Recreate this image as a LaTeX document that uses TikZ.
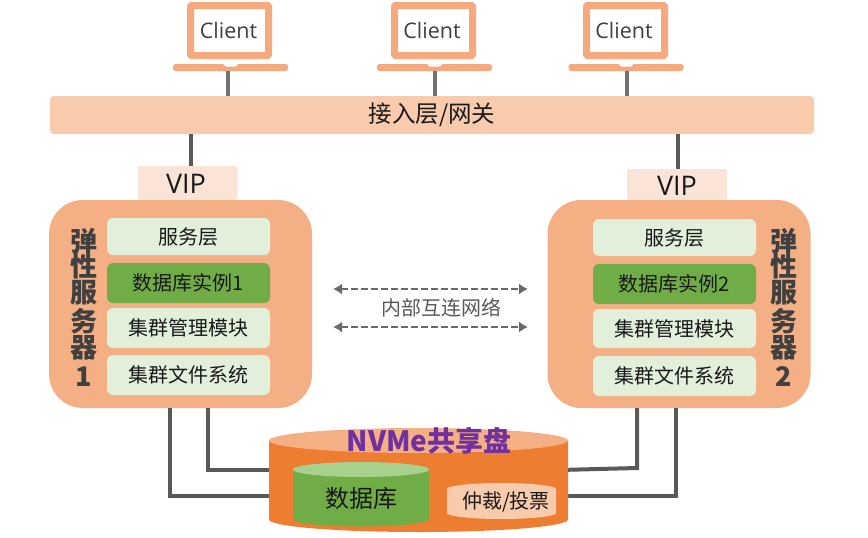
\documentclass[tikz,border=0pt]{standalone}
\usepackage{fontspec}
\setmainfont{Noto Sans CJK SC}
\newfontfamily\latinf{Open Sans}
\usetikzlibrary{arrows.meta}
\definecolor{lapc}{HTML}{F4A97E}
\definecolor{gatec}{HTML}{F8CBAD}
\definecolor{vipc}{HTML}{F9E4D7}
\definecolor{srvc}{HTML}{F4AF84}
\definecolor{lgreen}{HTML}{E2EFDA}
\definecolor{dgreen}{HTML}{70AD47}
\definecolor{mgreen}{HTML}{A9D18E}
\definecolor{orangec}{HTML}{ED7D31}
\definecolor{linec}{HTML}{595959}
\definecolor{labc}{HTML}{404040}
\definecolor{purp}{HTML}{7030A0}
\tikzset{
  px/.style={inner sep=0pt,outer sep=0pt},
  screen/.style={px,draw=lapc,line width=7pt,rounded corners=1pt,fill=white,minimum width=78pt,minimum height=50pt},
  lapbase/.style={px,fill=lapc,minimum width=115pt,minimum height=7pt,rounded corners=2.5pt},
  clienttext/.style={px,font=\latinf\fontsize{21.5}{21.5}\selectfont,text=labc},
  gate/.style={px,fill=gatec,rounded corners=4pt,minimum width=764pt,minimum height=38pt,font=\fontsize{23.5}{23.5}\selectfont,text=black!90},
  vipbox/.style={px,fill=vipc,rounded corners=2pt,minimum width=100pt},
  viptext/.style={px,font=\latinf\fontsize{27}{27}\selectfont,text=black!90},
  server/.style={px,fill=srvc,rounded corners=34pt,minimum width=263pt,minimum height=208pt},
  layerbox/.style={px,fill=lgreen,rounded corners=6pt,minimum width=163pt,font=\fontsize{20}{20}\selectfont,text=black!90},
  dbbox/.style={layerbox,fill=dgreen},
  sidelab/.style={px,font=\bfseries\fontsize{27}{27}\selectfont,text=labc},
  conn/.style={draw=linec!85,line width=4pt},
  wire/.style={draw=linec,line width=4pt},
  dbl/.style={draw=linec!90,line width=2.5pt,dash pattern=on 7pt off 3pt,{Latex[length=9pt,width=11pt]}-{Latex[length=9pt,width=11pt]}},
}
\begin{document}
\begin{tikzpicture}[x=1pt,y=-1pt]
\useasboundingbox[fill=white] (0,0) rectangle (868,538);
% wires to the disk
\coordinate (d1) at (280,496);
\coordinate (d2) at (280,470);
\coordinate (d3) at (560,470);
\coordinate (d4) at (560,496);
% clients
\foreach \n/\sx/\bx/\tx in {c1/229.5/230.5/228.5,c2/433.5/434.5/432,c3/625.5/626/624}{
  \node[screen] (\n) at (\sx,30.5) {};
  \node[clienttext] (\n t) at (\tx,30.5) {Client};
  \node[lapbase] (\n b) at (\bx,67.5) {};
  \fill[white] (\bx-7.5,64) -- (\bx+7.5,64) -- (\bx+5,66.5) -- (\bx-5,66.5) -- cycle;
}
\node[gate] (gw) at (432,115) {接入层/网关};
\draw[conn] (227.5,71) -- (227.5,96);
\draw[conn] (435,71) -- (435,96);
\draw[conn] (627,71) -- (627,96);
\node[vipbox,minimum height=34pt] (v1) at (187.5,183) {};
\node[vipbox,minimum height=31pt] (v2) at (677,184.5) {};
\draw[wire] (191,134) -- (191,166);
\draw[wire] (678,134) -- (678,169);
\node[server] (s1) at (180.5,304) {};
\node[server] (s2) at (679,304) {};
\node[viptext] (v1t) at (186,184) {VIP};
\node[viptext] (v2t) at (677,186) {VIP};
% left layers
\node[layerbox,minimum height=37pt] (a1) at (188.5,236.5) {服务层};
\node[dbbox,minimum height=40pt] (a2) at (188.5,283) {数据库实例1};
\node[layerbox,minimum height=40pt] (a3) at (188.5,328) {集群管理模块};
\node[layerbox,minimum height=40pt] (a4) at (188.5,375) {集群文件系统};
% right layers
\node[layerbox,minimum height=37pt] (b1) at (674.5,237.5) {服务层};
\node[dbbox,minimum height=40pt] (b2) at (674.5,284) {数据库实例2};
\node[layerbox,minimum height=39pt] (b3) at (674.5,328.5) {集群管理模块};
\node[layerbox,minimum height=40pt] (b4) at (674.5,376) {集群文件系统};
% side labels
\foreach \x/\p/\last in {84/l/1,784/r/2}{
  \node[sidelab] (\p1) at (\x,241) {弹};
  \node[sidelab] (\p2) at (\x,266) {性};
  \node[sidelab] (\p3) at (\x,293) {服};
  \node[sidelab] (\p4) at (\x,321) {务};
  \node[sidelab] (\p5) at (\x,348) {器};
  \node[sidelab] (\p6) at (\x,377) {\last};
}
% interconnect
\coordinate (n1) at (333,289); \coordinate (n2) at (528,289);
\coordinate (n3) at (333,327); \coordinate (n4) at (528,327);
\draw[dbl] (n1) -- (n2);
\draw[dbl] (n3) -- (n4);
\node[px,font=\fontsize{20}{20}\selectfont,text=linec] (nt) at (441,308) {内部互连网络};
% wires
\draw[wire] (170,408) -- (170,496) -- (d1);
\draw[wire] (208,408) -- (208,470) -- (d2);
\draw[wire] (d3) -- (637,468) -- (637,408);
\draw[wire] (d4) -- (676,496) -- (676,408);
% disk
\fill[orangec] (269,440.5) -- (269,519.5) arc[start angle=180,end angle=0,x radius=149.5pt,y radius=-12.5pt] -- (568,440.5) -- cycle;
\fill[srvc] (418.5,440.5) ellipse[x radius=149.5pt,y radius=12.5pt];
\node[px,font=\bfseries\fontsize{28}{28}\selectfont,text=purp] (disk) at (429,441) {NVMe共享盘};
% database
\fill[dgreen] (293,469.5) -- (293,519) arc[start angle=180,end angle=0,x radius=68pt,y radius=-7.5pt] -- (429,469.5) -- cycle;
\fill[mgreen] (361,469.5) ellipse[x radius=68pt,y radius=7.5pt];
\node[px,font=\fontsize{24}{24}\selectfont,text=black!90] (dbt) at (361.5,498) {数据库};
% quorum
\fill[gatec] (447,489) -- (447,513) arc[start angle=180,end angle=0,x radius=54.5pt,y radius=-6pt] -- (556,489) arc[start angle=0,end angle=180,x radius=54.5pt,y radius=6pt] -- cycle;
\node[px,font=\fontsize{20}{20}\selectfont,text=black!90] (qt) at (506,502) {仲裁/投票};
\end{tikzpicture}
\end{document}
